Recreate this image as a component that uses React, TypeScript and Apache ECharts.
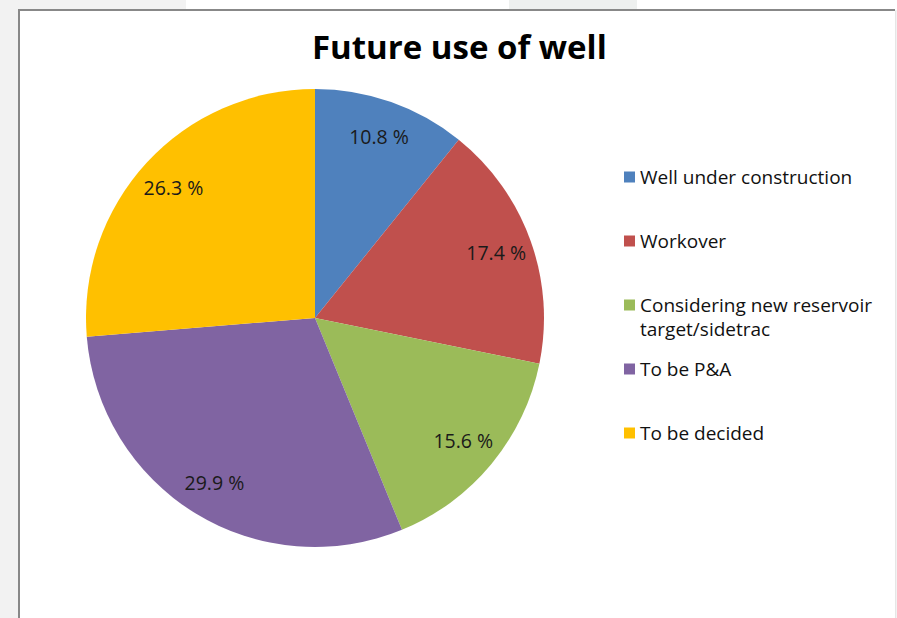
import React, { useEffect, useRef } from "react";
import * as echarts from "echarts";

const TITLE = "Future use of well";
const categories = [
  "Well under construction",
  "Workover",
  "Considering new reservoir target/sidetrac",
  "To be P&A",
  "To be decided",
];
const legendLabels = [
  "Well under construction",
  "Workover",
  "\nConsidering new reservoir\ntarget/sidetrac",
  "To be P&A",
  "To be decided",
];
const values = [10.8, 17.4, 15.6, 29.9, 26.3];
const colors = ["#4F81BD", "#C0504D", "#9BBB59", "#8064A2", "#FFC000"];

const FONT = "'Open Sans', Lato, sans-serif";

export default function App() {
  const ref = useRef<HTMLDivElement>(null);

  useEffect(() => {
    if (!ref.current) return;
    const chart = echarts.init(ref.current, undefined, { renderer: "svg" });

    const data = categories.map((name, i) => ({
      name,
      value: values[i],
      itemStyle: { color: colors[i] },
    }));

    const legendCenters = [177, 241, 305, 369, 433];
    const legends = categories.map((name, i) => {
      const multi = legendLabels[i].includes("\n");
      return {
        orient: "vertical",
        left: 624,
        top: legendCenters[i] - (multi ? 36 : 12),
        padding: 0,
        itemWidth: 11,
        itemHeight: 11,
        icon: "rect",
        selectedMode: false,
        data: [{ name, itemStyle: { color: colors[i] } }],
        formatter: () => legendLabels[i],
        textStyle: {
          fontFamily: FONT,
          fontSize: 19,
          color: "#111",
          lineHeight: 24,
        },
      };
    });

    chart.setOption({
      animation: false,
      backgroundColor: "#f2f2f2",
      graphic: [
        { type: "rect", z: -10, shape: { x: 186, y: 0, width: 323, height: 10 }, style: { fill: "#ffffff" } },
        { type: "rect", z: -10, shape: { x: 509, y: 0, width: 128, height: 10 }, style: { fill: "#eef0ef" } },
        { type: "rect", z: -10, shape: { x: 637, y: 0, width: 260, height: 10 }, style: { fill: "#ffffff" } },
        { type: "rect", z: -10, shape: { x: 18, y: 9, width: 877, height: 620 }, style: { fill: "#ffffff" } },
        { type: "line", z: -9, shape: { x1: 18, y1: 10, x2: 895, y2: 10 }, style: { stroke: "#888888", lineWidth: 2 } },
        { type: "line", z: -9, shape: { x1: 19, y1: 9, x2: 19, y2: 618 }, style: { stroke: "#888888", lineWidth: 2 } },
        { type: "line", z: -9, shape: { x1: 895.5, y1: 11, x2: 895.5, y2: 618 }, style: { stroke: "#e6e6e6", lineWidth: 1 } },
      ],
      title: {
        text: TITLE,
        left: 312,
        top: 30,
        padding: 0,
        textStyle: { fontFamily: FONT, fontSize: 33, fontWeight: "bold", color: "#000" },
      },
      legend: legends,
      series: [
        {
          type: "pie",
          center: [315, 318],
          radius: 229,
          startAngle: 90,
          clockwise: true,
          silent: true,
          label: { show: false },
          labelLine: { show: false },
          itemStyle: { borderWidth: 0 },
          data,
        },
        {
          type: "pie",
          center: [315, 318],
          radius: [150, 229],
          startAngle: 90,
          clockwise: true,
          silent: true,
          z: 3,
          itemStyle: { color: "rgba(0,0,0,0)", borderWidth: 0 },
          label: {
            show: true,
            position: "inside",
            fontFamily: FONT,
            fontSize: 19.5,
            color: "#1a1a1a",
            formatter: (p: any) => `${Number(p.value).toFixed(1)} %`,
          },
          labelLine: { show: false },
          data: categories.map((name, i) => ({ name, value: values[i] })),
        },
      ],
    });

    return () => chart.dispose();
  }, []);

  return (
    <div
      ref={ref}
      style={{ position: "fixed", left: 0, top: 0, width: 897, height: 618 }}
    />
  );
}
